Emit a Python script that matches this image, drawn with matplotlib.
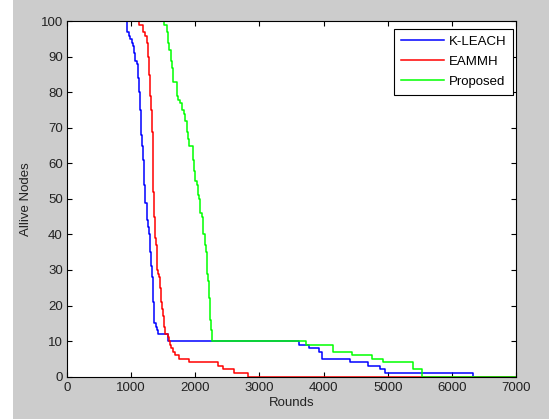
import matplotlib
matplotlib.use('Agg')
import matplotlib.pyplot as plt
from matplotlib.patches import Rectangle

# Alive nodes per round (step points: value holds from that round on)
kleach_rounds = [0, 937, 974, 989, 1015, 1031, 1051, 1067, 1093, 1109, 1118, 1134, 1150, 1156,
                 1171, 1192, 1207, 1223, 1243, 1269, 1285, 1296, 1311, 1327, 1337, 1352, 1363,
                 1389, 1399, 1414, 1570, 3617, 3772, 3928, 3980, 4405, 4696, 4883, 4956, 6332, 7000]
kleach_alive = [100, 97, 96, 95, 94, 93, 91, 89, 88, 84, 80, 75, 71, 68,
                65, 61, 54, 49, 44, 42, 40, 35, 31, 28, 21, 18, 15,
                14, 13, 12, 10, 9, 8, 7, 5, 4, 3, 2, 1, 0, 0]

eammh_rounds = [0, 1129, 1181, 1218, 1243, 1259, 1274, 1296, 1311, 1321, 1337, 1347, 1363, 1379,
                1389, 1405, 1425, 1441, 1452, 1467, 1483, 1498, 1508, 1529, 1570, 1586, 1607,
                1623, 1659, 1690, 1752, 1897, 2349, 2427, 2609, 2816, 7000]
eammh_alive = [100, 99, 97, 96, 94, 90, 85, 79, 75, 69, 64, 52, 45, 39,
               37, 30, 29, 28, 25, 21, 19, 17, 14, 12, 11, 10, 9,
               8, 7, 6, 5, 4, 3, 2, 1, 0, 0]

proposed_rounds = [0, 1519, 1555, 1576, 1597, 1617, 1639, 1659, 1711, 1732, 1763, 1794, 1830, 1846,
                   1872, 1893, 1908, 1970, 1986, 2002, 2022, 2037, 2064, 2079, 2106, 2126, 2146,
                   2168, 2184, 2199, 2220, 2230, 2240, 2255, 3726, 4151, 4442, 4748, 4930, 5402,
                   5542, 7000]
proposed_alive = [100, 99, 97, 94, 92, 89, 87, 83, 79, 78, 77, 75, 74, 72,
                  69, 67, 65, 61, 58, 55, 54, 51, 50, 46, 45, 40, 37,
                  35, 29, 27, 22, 16, 13, 10, 9, 7, 6, 5, 4, 2,
                  0, 0]

x_ticks = list(range(0, 7001, 1000))
y_ticks = list(range(0, 101, 10))

plt.rcParams['font.family'] = ['Liberation Sans', 'DejaVu Sans']
plt.rcParams['font.size'] = 9.5

fig = plt.figure(figsize=(5.49, 4.19), dpi=100, facecolor='#cccccc')
# white strip at the left edge of the screenshot
fig.patches.append(Rectangle((0, 0), 13 / 549, 1, transform=fig.transFigure,
                             facecolor='white', edgecolor='none', zorder=0))

ax = fig.add_axes([67 / 549, 1 - 376.5 / 419, 449 / 549, 355 / 419])
ax.set_facecolor('white')

ax.plot(kleach_rounds, kleach_alive, drawstyle='steps-post', color=(0, 0, 1), lw=1.1, label='K-LEACH')
ax.plot(eammh_rounds, eammh_alive, drawstyle='steps-post', color=(1, 0, 0), lw=1.1, label='EAMMH')
ax.plot(proposed_rounds, proposed_alive, drawstyle='steps-post', color=(0, 1, 0), lw=1.1, label='Proposed')

# MATLAB-like axes
ax.set_xlim(0, 7000)
ax.set_ylim(0, 100)
ax.set_xticks(x_ticks)
ax.set_yticks(y_ticks)
ax.tick_params(direction='in', length=3.5, width=0.8, top=True, right=True, colors='black',
               labelcolor='#222222')
ax.tick_params(axis='x', pad=4)
ax.tick_params(axis='y', pad=3)
for s in ax.spines.values():
    s.set_linewidth(0.8)
    s.set_color('black')

ax.set_xlabel('Rounds', color='#222222', labelpad=2)
ax.set_ylabel('Allive Nodes', color='#222222', labelpad=6)

leg = ax.legend(loc='upper right', bbox_to_anchor=(0.9933, 0.979), borderaxespad=0,
                fancybox=False, framealpha=1, edgecolor='black', handlelength=3.3,
                handletextpad=0.35, labelspacing=0.6, borderpad=0.5)
leg.get_frame().set_linewidth(0.8)

fig.savefig('out.png', dpi=100, facecolor=fig.get_facecolor())
